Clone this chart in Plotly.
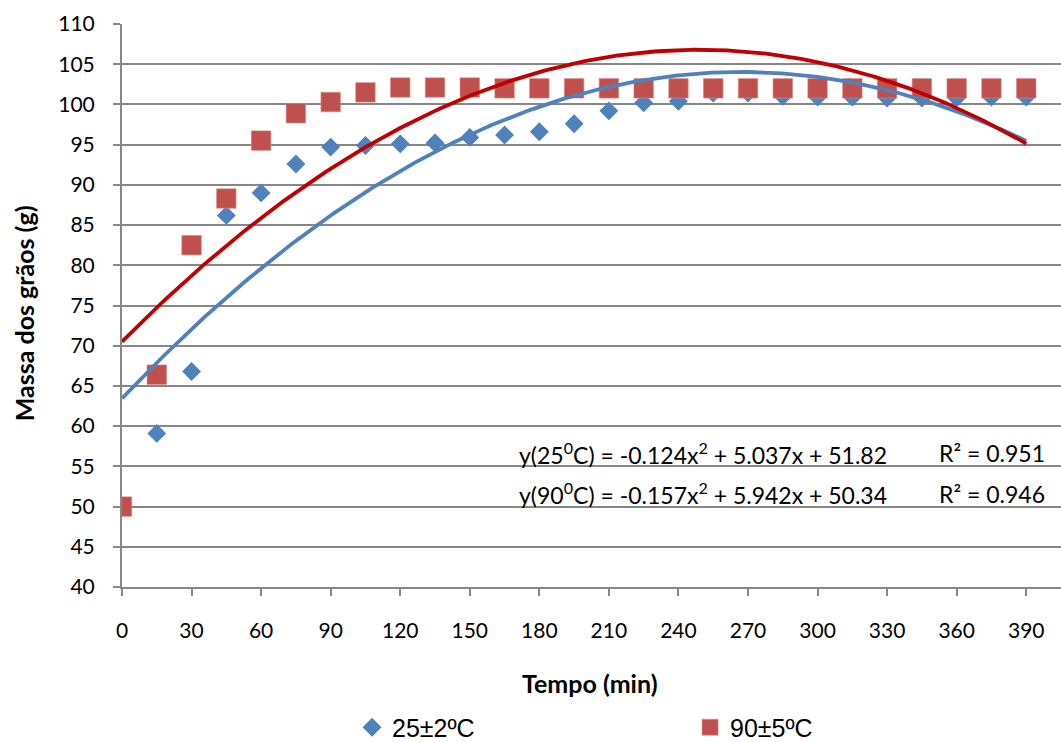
import numpy as np
import plotly.graph_objects as go

# Sampling times (min) and grain mass (g) for both soaking temperatures
tempo = [0, 15, 30, 45, 60, 75, 90, 105, 120, 135, 150, 165, 180, 195,
         210, 225, 240, 255, 270, 285, 300, 315, 330, 345, 360, 375, 390]
massa_25 = [50.0, 59.1, 66.8, 86.2, 89.0, 92.6, 94.7, 94.9, 95.1, 95.2, 95.9, 96.2, 96.6, 97.6,
            99.2, 100.2, 100.4, 101.4, 101.4, 101.0, 100.9, 100.9, 100.8, 100.8, 100.8, 100.9, 100.9]
massa_90 = [50.0, 66.4, 82.5, 88.3, 95.5, 98.9, 100.3, 101.5, 102.1, 102.1, 102.1, 102.0, 102.0, 102.0,
            102.0, 102.0, 102.0, 102.0, 102.0, 102.0, 102.0, 102.0, 102.0, 102.0, 102.0, 102.0, 102.0]

x_ticks = list(range(0, 391, 30))
y_ticks = list(range(40, 111, 5))

label_25 = "25±2ºC"
label_90 = "90±5ºC"
eq_25 = "y(25<sup>0</sup>C) = -0.124x<sup>2</sup> + 5.037x + 51.82"
eq_90 = "y(90<sup>0</sup>C) = -0.157x<sup>2</sup> + 5.942x + 50.34"
r2_25 = "R² = 0.951"
r2_90 = "R² = 0.946"

BLUE = "#4F81BD"
RED = "#C0504D"
RED_LINE = "#C00000"
GRID = "#878787"

# Second-order polynomial trendlines fitted to each series
t_fit = np.linspace(min(tempo), max(tempo), 300)
fit_25 = np.polyval(np.polyfit(tempo, massa_25, 2), t_fit)
fit_90 = np.polyval(np.polyfit(tempo, massa_90, 2), t_fit)

fig = go.Figure()
fig.add_trace(go.Scatter(x=tempo, y=massa_25, mode="markers", name=label_25,
                         marker=dict(symbol="diamond", size=14.5, color=BLUE)))
fig.add_trace(go.Scatter(x=tempo, y=massa_90, mode="markers", name=label_90,
                         marker=dict(symbol="square", size=19.5, color=RED,
                                     line=dict(color="#D98F8D", width=0.6))))
fig.add_trace(go.Scatter(x=t_fit, y=fit_25, mode="lines", showlegend=False,
                         line=dict(color=BLUE, width=3.8)))
fig.add_trace(go.Scatter(x=t_fit, y=fit_90, mode="lines", showlegend=False,
                         line=dict(color=RED_LINE, width=3.8)))

tick_font = dict(family="Lato", size=21, color="#000000")

fig.update_layout(
    width=1061, height=742,
    margin=dict(l=122, r=0, t=24, b=155, autoexpand=False),
    plot_bgcolor="white", paper_bgcolor="white",
    font=tick_font,
    showlegend=True,
    legend=dict(orientation="h", x=0.245, xanchor="left", y=-0.2495, yanchor="middle",
                entrywidth=293, entrywidthmode="pixels",
                font=dict(family="Liberation Sans", size=25, color="#000000"),
                bgcolor="rgba(0,0,0,0)"),
    xaxis=dict(range=[0, 405], tickmode="array", tickvals=x_ticks,
               showgrid=False, zeroline=False,
               showline=True, linecolor=GRID, linewidth=1.5,
               ticks="outside", ticklen=7, tickwidth=1.5, tickcolor=GRID,
               ticklabelstandoff=17, tickfont=tick_font),
    yaxis=dict(range=[40, 110], tickmode="array", tickvals=y_ticks,
               showgrid=True, gridcolor=GRID, gridwidth=1.5, zeroline=False,
               showline=True, linecolor=GRID, linewidth=2,
               ticks="outside", ticklen=7, tickwidth=1.5, tickcolor=GRID,
               ticklabelstandoff=14, tickfont=tick_font),
)

eq_font = dict(family="Lato", size=23, color="#000000")

fig.add_annotation(text="<b>Tempo (min)</b>", xref="paper", yref="paper",
                   x=0.4986, y=-0.1704, xanchor="center", yanchor="middle",
                   showarrow=False, font=dict(family="Lato", size=25, color="#000000"))
fig.add_annotation(text="<b>Massa dos grãos (g)</b>", xref="paper", yref="paper",
                   x=-0.105, y=0.487, xanchor="center", yanchor="middle",
                   textangle=-90, showarrow=False,
                   font=dict(family="Lato", size=25, color="#000000"))

for eq, r2, yv in [(eq_25, r2_25, 56.6), (eq_90, r2_90, 51.6)]:
    fig.add_annotation(text=eq, xref="paper", yref="y", x=0.4208, y=yv,
                       xanchor="left", yanchor="middle", showarrow=False, font=eq_font)
    fig.add_annotation(text=r2, xref="paper", yref="y", x=0.868, y=yv,
                       xanchor="left", yanchor="middle", showarrow=False, font=eq_font)

fig.write_html("out.html")
